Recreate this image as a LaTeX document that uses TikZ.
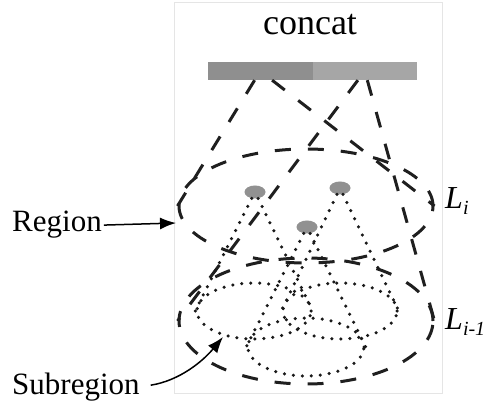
\documentclass[tikz,border=0pt]{standalone}
\usepackage{fontspec}
\setmainfont{Liberation Serif}
\usetikzlibrary{arrows.meta,shapes.geometric}

% italic L with a lowered index
\newcommand{\lsub}[1]{\textit{L}\raisebox{-6pt}{\fontsize{20}{20}\selectfont\textit{#1}}}

\begin{document}
\begin{tikzpicture}[x=1pt,y=-1pt,
  cone/.style={draw=black!88,line width=3pt,dash pattern=on 16pt off 17pt},
  region/.style={ellipse,cone,inner sep=0pt,minimum width=254pt},
  subcone/.style={draw=black!90,line width=3.5pt,line cap=round,dash pattern=on 0pt off 9pt},
  subregion/.style={ellipse,subcone,inner sep=0pt,minimum width=114pt,minimum height=56pt},
  point/.style={ellipse,fill=black!43,inner sep=0pt,minimum width=21pt,minimum height=13pt},
  half/.style={rectangle,inner sep=0pt,minimum width=104.5pt,minimum height=18pt},
  pointer/.style={-{Latex[length=16pt,width=12pt]},draw=black,line width=1.5pt},
  txt/.style={font=\fontsize{31}{36}\selectfont,inner sep=2pt},
  title/.style={font=\fontsize{36}{40}\selectfont,inner sep=0pt},
]
\useasboundingbox (0,0) rectangle (487,403);
\draw[black!10,line width=0.8pt] (174,2) rectangle (442,393);

\node[title,anchor=base] (concat) at (310,35) {concat};
\node[half,fill=black!44] (barL) at (260.25,71) {};
\node[half,fill=black!35] (barR) at (364.75,71) {};

% the two levels
\node[region,minimum height=114pt] (Li) at (306,206) {};
\node[region,minimum height=126pt] (Lj) at (306,321) {};
\draw[cone] (barL) -- (Li.west) (barL) -- (Li.east);
\draw[cone] (barR) -- (Lj.west) (barR) -- (Lj.east);

% sampled points and their subregions
\node[point] (p1) at (255,192) {};
\node[point] (p2) at (340,188) {};
\node[point] (p3) at (307,227) {};
\node[subregion] (s1) at (254,311) {};
\node[subregion] (s2) at (340,311) {};
\node[subregion,minimum width=116pt,minimum height=58pt] (s3) at (306,347) {};
\foreach \p/\s in {p1/s1,p2/s2,p3/s3}
  \draw[subcone] (\p) -- (\s.west) (\p) -- (\s.east);

\node[txt,anchor=base west,font=\fontsize{32}{36}\selectfont] (labi) at (443,209) {\lsub{i}};
\node[txt,anchor=base west,font=\fontsize{32}{36}\selectfont] (labj) at (443,329) {\lsub{i-1}};

\node[txt,anchor=base west] (region) at (10,232) {Region};
\node[txt,anchor=base west] (subregion) at (10,394) {Subregion};
\coordinate (regtip) at (176,223);
\coordinate (subtip) at (223,337);
\draw[pointer] (region.east) -- (regtip);
\draw[pointer,shorten <=9pt] (subregion.east) .. controls +(38,-6) and +(-20,24) .. (subtip);
\end{tikzpicture}
\end{document}
